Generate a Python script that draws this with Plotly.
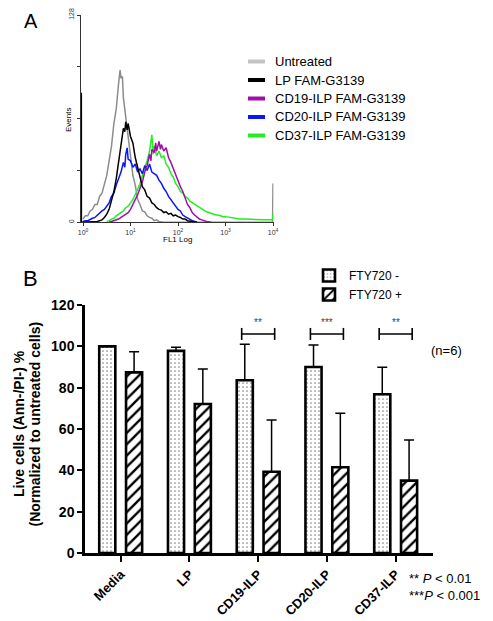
import plotly.graph_objects as go

W, H = 493, 621          # reference picture size
OFF = 8                  # page body margin of the saved html page
FW, FH = W - OFF, H - OFF
FONT = "Arial, Liberation Sans, sans-serif"


def px(x):
    return (x - OFF) / FW


def py(y):
    return 1 - (y - OFF) / FH


# ---------------- Panel A: flow cytometry histograms (log10 FL1, events) -------------
gray_log = [0.00, 0.05, 0.10, 0.15, 0.20, 0.25, 0.30, 0.35, 0.40, 0.45, 0.50, 0.55, 0.60,
            0.65, 0.70, 0.75, 0.78, 0.80, 0.83, 0.85, 0.90, 0.95, 1.00, 1.05, 1.10, 1.15,
            1.20, 1.25, 1.30, 1.35, 1.40, 1.45, 1.50, 1.55, 1.60, 1.70, 3.99, 4.00]
gray_events = [2, 4, 4, 7, 8, 11, 11, 16, 18, 24, 29, 38, 47, 61, 70, 86, 94, 89, 90, 77,
               64, 52, 42, 29, 23, 14, 11, 7, 6.5, 4, 3, 2.5, 1, 1.5, 0.5, 0, 0, 24]

black_log = [-0.035, -0.034, 0.30, 0.35, 0.40, 0.45, 0.50, 0.55, 0.60, 0.65, 0.70, 0.75,
             0.80, 0.85, 0.88, 0.90, 0.93, 0.95, 1.00, 1.05, 1.10, 1.15, 1.20, 1.25, 1.30,
             1.35, 1.40, 1.45, 1.50, 1.55, 1.60, 1.65, 1.70, 1.75, 1.80, 1.85, 1.90, 1.95,
             2.00, 2.05, 2.10, 2.15, 2.20, 2.30, 2.40]
black_events = [80, 0, 0.5, 1, 1.5, 3, 5, 8, 13, 19, 27, 38, 49, 58, 56, 62, 57, 61, 53,
                49, 40, 34, 27, 22, 20, 16, 15, 12, 11, 9, 8, 7.5, 6, 6.5, 5, 5.5, 4, 4.5,
                3.5, 3, 2, 2, 1, 0.5, 0]

blue_log = [0.00, 0.05, 0.10, 0.15, 0.20, 0.25, 0.30, 0.35, 0.40, 0.45, 0.50, 0.55, 0.60,
            0.65, 0.70, 0.75, 0.80, 0.85, 0.88, 0.90, 0.93, 0.95, 1.00, 1.05, 1.10, 1.15,
            1.20, 1.25, 1.30, 1.35, 1.40, 1.45, 1.50, 1.55, 1.60, 1.65, 1.70, 1.75, 1.80,
            1.85, 1.90, 1.95, 2.00, 2.05, 2.10, 2.15, 2.20, 2.25, 2.30, 2.40]
blue_events = [0.5, 1, 1, 2, 2.5, 3, 4.5, 5.5, 7, 8, 10, 12, 16, 18, 23, 27, 31, 37, 34,
               42, 46, 39, 38, 34, 36, 31, 33, 30, 35, 32, 36, 31, 30, 29, 26, 24, 21, 19,
               16, 14, 12, 10, 8, 7, 4.5, 3.5, 2.5, 1.5, 1, 0]

magenta_log = [0.55, 0.60, 0.65, 0.70, 0.75, 0.80, 0.85, 0.90, 0.95, 1.00, 1.05, 1.10,
               1.15, 1.20, 1.25, 1.30, 1.35, 1.40, 1.43, 1.45, 1.50, 1.53, 1.55, 1.60,
               1.63, 1.65, 1.70, 1.75, 1.80, 1.85, 1.90, 1.95, 2.00, 2.05, 2.10, 2.15,
               2.20, 2.25, 2.30, 2.35, 2.40, 2.45, 2.50, 2.60, 2.70]
magenta_events = [0, 0.5, 1, 1.5, 2, 3, 4, 5.5, 6, 8, 11, 13, 17, 21, 25, 31, 35, 42, 38,
                  45, 43, 49, 44, 50, 45, 48, 44, 46, 40, 37, 33, 29, 26, 22, 19, 15, 11,
                  9, 6, 4.5, 3, 2, 1.5, 0.5, 0]

green_log = [0.50, 0.55, 0.60, 0.65, 0.70, 0.75, 0.80, 0.85, 0.90, 0.95, 1.00, 1.05, 1.10,
             1.15, 1.20, 1.25, 1.30, 1.35, 1.40, 1.45, 1.48, 1.50, 1.55, 1.60, 1.65, 1.70,
             1.75, 1.80, 1.85, 1.90, 1.95, 2.00, 2.05, 2.10, 2.15, 2.20, 2.25, 2.30, 2.35,
             2.40, 2.45, 2.50, 2.55, 2.60, 2.65, 2.70, 2.75, 2.80, 2.85, 2.90, 2.95, 3.00,
             3.10, 3.20, 3.30, 3.40, 3.50, 3.60, 3.70, 3.80, 3.90, 3.99, 4.00]
green_events = [0.5, 1, 2, 2.5, 4, 5, 6, 7, 9, 10, 12, 14, 17, 20, 24, 29, 33, 38, 44, 54,
                42, 47, 41, 44, 40, 41, 36, 34, 30, 28, 24, 22, 19, 18, 16, 15, 13, 12, 11,
                10, 9, 8, 7.5, 6.5, 6, 5.5, 5, 4.5, 4.5, 4, 3.5, 3.5, 3, 2.5, 2, 2, 1.8,
                1.7, 1.6, 1.5, 1.5, 1.5, 5.5]

hist_labels = ["Untreated", "LP FAM-G3139", "CD19-ILP FAM-G3139",
               "CD20-ILP FAM-G3139", "CD37-ILP FAM-G3139"]
hist_colors = ["#8c8c8c", "#000000", "#a010a8", "#0a14ff", "#22ee22"]
legend_colors = ["#c4c4c4", "#000000", "#a010a8", "#0a14ff", "#22ee22"]
hist_series = [(gray_log, gray_events), (black_log, black_events),
               (magenta_log, magenta_events), (blue_log, blue_events),
               (green_log, green_events)]
draw_order = [0, 4, 3, 2, 1]  # gray at the back, black on top

a_x_ticks = [1, 10, 100, 1000, 10000]
a_x_ticktext = ["10<sup>0</sup>", "10<sup>1</sup>", "10<sup>2</sup>",
                "10<sup>3</sup>", "10<sup>4</sup>"]
a_y_ticks = [0, 128]
a_y_minor_step = 32

# ---------------- Panel B: live cells bar chart -------------
categories = ["Media", "LP", "CD19-ILP", "CD20-ILP", "CD37-ILP"]
fty_minus = [100.0, 97.8, 83.6, 90.0, 76.8]
fty_minus_err = [0.0, 1.7, 17.4, 10.6, 13.1]
fty_plus = [87.4, 72.1, 39.3, 41.5, 35.0]
fty_plus_err = [10.0, 16.9, 25.1, 26.1, 19.7]
b_y_ticks = [0, 20, 40, 60, 80, 100, 120]
sig_categories = ["CD19-ILP", "CD20-ILP", "CD37-ILP"]
sig_marks = ["**", "***", "**"]
sig_level = 106

fig = go.Figure()

for i in draw_order:
    lg, ev = hist_series[i]
    fig.add_trace(go.Scatter(
        x=[10 ** v for v in lg], y=ev, mode="lines", name=hist_labels[i],
        line=dict(color=hist_colors[i], width=1.5), showlegend=False,
        xaxis="x", yaxis="y", hoverinfo="skip"))

fig.add_trace(go.Bar(
    x=categories, y=fty_minus, name="FTY720 -", xaxis="x2", yaxis="y2",
    marker=dict(color="white", line=dict(color="black", width=2.6),
                pattern=dict(shape=".", fgcolor="#8a8a8a", bgcolor="white",
                             size=4, solidity=0.15)),
    error_y=dict(type="data", array=fty_minus_err, arrayminus=[0] * 5,
                 symmetric=False, color="black", thickness=1.5, width=5)))
fig.add_trace(go.Bar(
    x=categories, y=fty_plus, name="FTY720 +", xaxis="x2", yaxis="y2",
    marker=dict(color="white", line=dict(color="black", width=2.6),
                pattern=dict(shape="/", fgcolor="black", bgcolor="white",
                             size=8, solidity=0.3)),
    error_y=dict(type="data", array=fty_plus_err, arrayminus=[0] * 5,
                 symmetric=False, color="black", thickness=1.5, width=5)))

shapes = []
annotations = []

# significance brackets
for cat, mark in zip(sig_categories, sig_marks):
    idx = categories.index(cat)
    lw = dict(color="black", width=1.6)
    shapes.append(dict(type="line", xref="x2", yref="y2", x0=idx - 0.24, x1=idx + 0.24,
                       y0=sig_level, y1=sig_level, line=lw))
    for xe in (idx - 0.24, idx + 0.24):
        shapes.append(dict(type="line", xref="x2", yref="y2", x0=xe, x1=xe,
                           y0=sig_level - 2.9, y1=sig_level + 2.9, line=lw))
    annotations.append(dict(x=idx, y=sig_level + 5.5, xref="x2", yref="y2", text=mark,
                            showarrow=False, font=dict(size=10, color="#444444", family=FONT),
                            xanchor="center", yanchor="middle"))

# Panel A manual legend
for k, (lab, col) in enumerate(zip(hist_labels, legend_colors)):
    yy = 61.5 + k * 18.5
    shapes.append(dict(type="line", xref="paper", yref="paper", x0=px(248), x1=px(265),
                       y0=py(yy), y1=py(yy), line=dict(color=col, width=4)))
    annotations.append(dict(x=px(273), y=py(yy), xref="paper", yref="paper", text=lab,
                            showarrow=False, xanchor="left", yanchor="middle",
                            font=dict(size=13, color="black", family=FONT)))

txt = [
    ("A", 31, 20.5, 20, "normal", "center", 0),
    ("B", 30.5, 278.5, 22, "normal", "center", 0),
    ("Events", 68, 120, 8, "normal", "center", -90),
    ("FL1 Log", 177, 239.5, 8, "normal", "center", 0),
    ("Live cells (Ann-/PI-) %", 19, 424, 14, "bold", "center", -90),
    ("(Normalized to untreated cells)", 34.5, 424, 14, "bold", "center", -90),
    ("(n=6)", 446, 350, 13, "normal", "center", 0),
    ("** <i>P</i> &lt; 0.01", 407, 578, 13, "normal", "left", 0),
    ("***<i>P</i> &lt; 0.001", 407, 595, 13, "normal", "left", 0),
]
for t, x, y, s, wgt, anc, ang in txt:
    annotations.append(dict(x=px(x), y=py(y), xref="paper", yref="paper", text=t,
                            showarrow=False, xanchor=anc, yanchor="middle", textangle=ang,
                            font=dict(size=s, color="black", family=FONT, weight=wgt)))

fig.update_layout(
    template="none",
    width=FW, height=FH, margin=dict(l=0, r=0, t=0, b=0, pad=0, autoexpand=False),
    paper_bgcolor="white", plot_bgcolor="white",
    font=dict(family=FONT, color="black"),
    barmode="group", bargap=0.22, bargroupgap=0.40,
    shapes=shapes, annotations=annotations,
    showlegend=True,
    legend=dict(x=px(309), y=py(261), xanchor="left", yanchor="top",
                font=dict(size=12, family=FONT, color="black"),
                bgcolor="rgba(0,0,0,0)", borderwidth=0),
    xaxis=dict(type="log", domain=[px(81), px(273.5)], range=[-0.042, 4.01],
               automargin=False,
               showline=True, linecolor="#333333", linewidth=1.2, ticks="outside",
               ticklen=3, tickcolor="#333333", tickvals=a_x_ticks, ticktext=a_x_ticktext,
               tickfont=dict(size=7, color="#333333"), showgrid=False, zeroline=False,
               anchor="y"),
    yaxis=dict(domain=[py(222.3), py(15)], range=[0, 128], showline=True,
               automargin=False,
               linecolor="#333333", linewidth=1.2, ticks="outside", ticklen=3,
               tickcolor="#333333", tickvals=a_y_ticks,
               minor=dict(ticks="outside", dtick=a_y_minor_step, ticklen=3,
                          tickcolor="#333333", showgrid=False),
               tickangle=-90, tickfont=dict(size=7, color="#333333"), showgrid=False,
               zeroline=False, anchor="x"),
    xaxis2=dict(domain=[px(85), px(433)], range=[-0.519, 4.543], type="category",
                automargin=False,
                showline=True, linecolor="black", linewidth=2.5, ticks="outside",
                ticklen=6, tickwidth=2, tickcolor="black", tickangle=-45,
                tickfont=dict(size=13, family=FONT, weight="bold", color="black"),
                showgrid=False, zeroline=False, anchor="y2"),
    yaxis2=dict(domain=[py(553), py(305)], range=[0, 120], tickvals=b_y_ticks,
                automargin=False,
                showline=True, linecolor="black", linewidth=2.5, ticks="outside",
                ticklen=5, tickwidth=2, tickcolor="black",
                tickfont=dict(size=14, family=FONT, weight="bold", color="black"),
                showgrid=False, zeroline=False, anchor="x2"),
)

fig.write_html("out.html")
